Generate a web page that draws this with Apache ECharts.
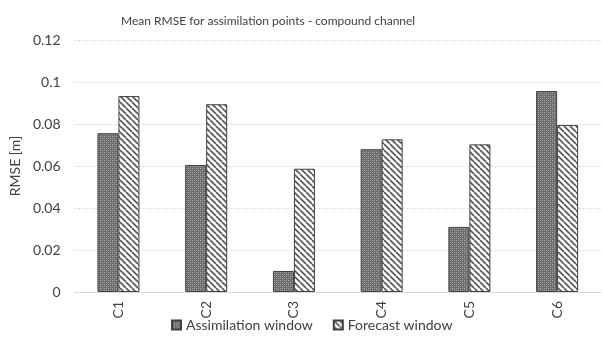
<!DOCTYPE html>
<html><head><meta charset="utf-8">
<script src="https://cdn.jsdelivr.net/npm/echarts@6/dist/echarts.min.js"></script>
<style>html,body{margin:0;padding:0;background:#fff}#c{width:603px;height:349px}</style>
</head><body><div id="c"></div>
<script>
const categories = ['C1','C2','C3','C4','C5','C6'];
const assimilation = [0.0756, 0.0605, 0.0100, 0.0680, 0.0310, 0.0957];
const forecast = [0.0933, 0.0894, 0.0587, 0.0727, 0.0703, 0.0795];
const yTicks = [0, 0.02, 0.04, 0.06, 0.08, 0.1, 0.12];

function dotPattern(){
  const c = document.createElement('canvas'); c.width = 4; c.height = 4;
  const g = c.getContext('2d');
  g.fillStyle = '#6e6e6e'; g.fillRect(0,0,4,4);
  g.fillStyle = '#acacac';
  g.fillRect(0,0,1,1); g.fillRect(2,2,1,1);
  g.fillStyle = '#8e8e8e';
  g.fillRect(2,0,1,1); g.fillRect(0,2,1,1);
  return c;
}
function hatchPattern(){
  const c = document.createElement('canvas'); c.width = 6; c.height = 6;
  const g = c.getContext('2d');
  g.fillStyle = '#ffffff'; g.fillRect(0,0,6,6);
  g.strokeStyle = '#555555'; g.lineWidth = 1.6;
  for (let k=-6;k<=12;k+=6){ g.beginPath(); g.moveTo(k,0); g.lineTo(k+6,6); g.stroke(); }
  return c;
}
const pA = {image: dotPattern(), repeat: 'repeat'};
const pF = {image: hatchPattern(), repeat: 'repeat'};
const font = 'Lato';
const chart = echarts.init(document.getElementById('c'));
chart.setOption({
  animation: false,
  title: {text: 'Mean RMSE for assimilation points - compound channel', left: 116, top: 10,
    textStyle: {fontFamily: font, fontSize: 12, fontWeight: 'normal', color: '#404040'}},
  grid: {left: 67, right: 2, top: 40, bottom: 57},
  legend: {bottom: 12, left: 166, itemWidth: 9, itemHeight: 9, itemGap: 20,
    textStyle: {fontFamily: font, fontSize: 14, color: '#404040'},
    data: [{name: 'Assimilation window', icon: 'rect'}, {name: 'Forecast window', icon: 'rect'}]},
  xAxis: {type: 'category', data: categories,
    axisLine: {lineStyle: {color: '#d9d9d9'}}, axisTick: {show: false},
    axisLabel: {rotate: 90, fontFamily: font, fontSize: 14, color: '#404040', margin: 9}},
  yAxis: {type: 'value', min: 0, max: 0.12, interval: 0.02,
    name: 'RMSE [m]', nameLocation: 'middle', nameGap: 43, nameRotate: 90,
    nameTextStyle: {fontFamily: font, fontSize: 14, color: '#404040'},
    axisLabel: {fontFamily: font, fontSize: 14, color: '#404040', margin: 14,
      formatter: v => { const t = yTicks.find(x => Math.abs(x - v) < 1e-9); return String(t !== undefined ? +t.toFixed(2) : v); }},
    splitLine: {lineStyle: {color: '#d9d9d9', type: [2,2]}}},
  series: [
    {name: 'Assimilation window', type: 'bar', data: assimilation, barWidth: 21, barGap: '0%',
      itemStyle: {color: pA, borderColor: '#404040', borderWidth: 1}},
    {name: 'Forecast window', type: 'bar', data: forecast, barWidth: 21,
      itemStyle: {color: pF, borderColor: '#404040', borderWidth: 1}}
  ]
});
</script></body></html>
